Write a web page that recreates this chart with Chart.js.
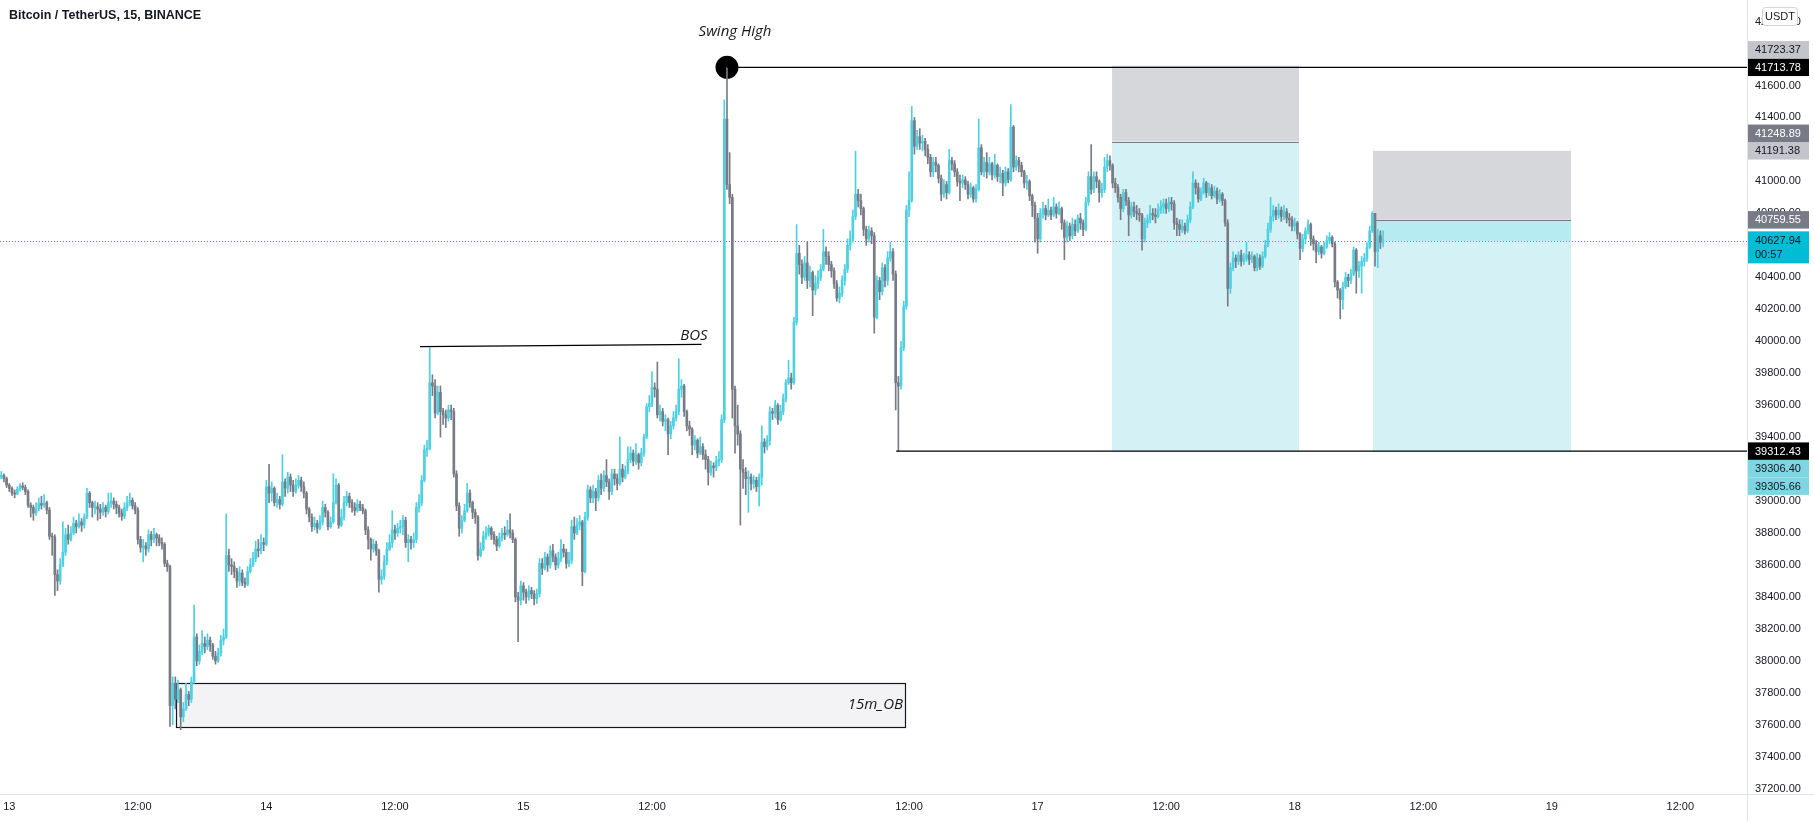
<!DOCTYPE html>
<html>
<head>
<meta charset="utf-8">
<script src="https://cdn.jsdelivr.net/npm/chart.js@4.4.1/dist/chart.umd.min.js"></script>
<style>
  html, body { margin: 0; padding: 0; background: #ffffff; overflow: hidden; }
</style>
</head>
<body>
<canvas id="btcChart" width="1814" height="821"></canvas>
<script>
// 15 minute candles, x = bar number counted from the 13th 00:00
const firstIndex = -4;
const firstOpen = 39140;
const closes = [
  39150, 39160, 39140, 39100, 39080, 39050, 39045, 39075,
  39095, 39085, 39060, 38975, 38960, 38925, 38950, 38985,
  38975, 38990, 38945, 38780, 38775, 38540, 38500, 38600,
  38680, 38790, 38760, 38800, 38860, 38840, 38870, 38850,
  38900, 39050, 38990, 38960, 38965, 38950, 38930, 38960,
  38935, 38990, 39000, 38980, 38960, 38925, 38905, 38960,
  38990, 39005, 38970, 38945, 38760, 38710, 38720, 38700,
  38790, 38760, 38790, 38770, 38740, 38730, 38610, 38590,
  37720, 37860, 37760, 37820, 37650, 37700, 37790, 37760,
  37870, 38150, 38000, 38060, 38110, 38090, 38130, 38100,
  38030, 38000, 38050, 38130, 38150, 38660, 38600, 38590,
  38560, 38500, 38550, 38490, 38480, 38560, 38600, 38640,
  38700, 38690, 38740, 38730, 39090, 39050, 39080, 38990,
  39010, 38980, 39120, 39080, 39150, 39100, 39060, 39100,
  39130, 39090, 39050, 38950, 38900, 38840, 38860, 38830,
  38870, 38960, 38930, 38840, 38870, 38990, 39100, 38850,
  38900, 38990, 39030, 38990, 38960, 38940, 38980, 38960,
  38940, 38820, 38760, 38700, 38730, 38690, 38510, 38530,
  38620, 38700, 38740, 38820, 38800, 38830, 38840, 38880,
  38740, 38760, 38740, 38760, 38960, 38990, 39130, 39320,
  39330, 39740, 39720, 39550, 39680, 39560, 39540, 39520,
  39570, 39560, 39170, 38970, 38830, 38880, 38940, 39050,
  38990, 38930, 38900, 38660, 38700, 38780, 38800, 38830,
  38790, 38760, 38720, 38770, 38800, 38790, 38820, 38800,
  38760, 38400, 38380, 38470, 38430, 38400, 38440, 38420,
  38390, 38420, 38610, 38580, 38650, 38600, 38690, 38650,
  38600, 38640, 38700, 38680, 38610, 38630, 38840, 38800,
  38850, 38870, 38560, 38900, 39070, 39020, 39060, 39020,
  39130, 39080, 39160, 39120, 39060, 39170, 39140, 39110,
  39200, 39150, 39190, 39260, 39300, 39250, 39290, 39240,
  39300, 39400, 39590, 39610, 39710, 39700, 39540, 39560,
  39500, 39510, 39420, 39470, 39520, 39560, 39700, 39720,
  39560, 39470, 39450, 39350, 39380, 39300, 39340, 39290,
  39260, 39180, 39220, 39210, 39250, 39260, 39510, 41390,
  40980, 40900, 39700, 39470, 39420, 39200, 39180, 39140,
  39150, 39110, 39130, 39090, 39150, 39370, 39340, 39380,
  39560, 39550, 39600, 39510, 39560, 39640, 39740, 39770,
  39740, 40120, 40550, 40480, 40400, 40490, 40380, 40430,
  40320, 40360, 40400, 40450, 40560, 40530, 40480, 40440,
  40360, 40270, 40300, 40380, 40450, 40600, 40640, 40780,
  40920, 40880, 40830, 40700, 40640, 40690, 40660, 40150,
  40380, 40310, 40460, 40380, 40520, 40560, 40420, 39740,
  39720, 39960, 40220, 40820, 40880, 41380, 41220, 41280,
  41240, 41250, 41200, 41150, 41060, 41120, 41100, 41020,
  40920, 40980, 40930, 41130, 41110, 41060, 41000, 40990,
  41010, 40980, 40920, 40960, 40890, 40950, 41210, 41060,
  41120, 41060, 41110, 41040, 41100, 41030, 41050, 40990,
  41060, 41010, 41340, 41090, 41130, 41100, 41060, 40990,
  41000, 40910, 40850, 40770, 40640, 40800, 40830, 40790,
  40820, 40790, 40840, 40800, 40830, 40740, 40650, 40720,
  40660, 40730, 40690, 40770, 40740, 40700, 40870, 41030,
  40950, 41030, 41000, 40930, 40950, 41090, 41130, 41100,
  40990, 40960, 40900, 40830, 40930, 40880, 40790, 40840,
  40810, 40800, 40790, 40640, 40740, 40760, 40800, 40790,
  40780, 40820, 40840, 40860, 40830, 40870, 40860, 40740,
  40730, 40700, 40720, 40690, 40760, 40840, 40990, 40960,
  40890, 40930, 40990, 40930, 40960, 40910, 40940, 40890,
  40920, 40880, 40740, 40330, 40460, 40520, 40500, 40540,
  40500, 40520, 40540, 40510, 40530, 40460, 40520, 40470,
  40530, 40600, 40700, 40780, 40820, 40790, 40820, 40780,
  40810, 40770, 40760, 40720, 40740, 40670, 40580, 40640,
  40690, 40730, 40640, 40610, 40560, 40590, 40550, 40590,
  40630, 40650, 40610, 40370, 40320, 40260, 40340, 40400,
  40380, 40420, 40570, 40440, 40470, 40500, 40520, 40590,
  40690, 40800, 40560, 40660, 40620, 40627.94
];
const highs = [
  39180, 39185, 39170, 39150, 39110, 39090, 39070, 39090,
  39110, 39115, 39100, 39070, 38990, 38975, 38990, 39020,
  39030, 39040, 39000, 38960, 38800, 38790, 38570, 38640,
  38870, 38830, 38850, 38840, 38900, 38880, 38920, 38890,
  38920, 39080, 39060, 39000, 39000, 38990, 38980, 38990,
  38975, 39050, 39050, 39020, 39000, 38975, 38950, 38990,
  39030, 39050, 39020, 38990, 38960, 38780, 38760, 38740,
  38820, 38810, 38830, 38800, 38790, 38770, 38740, 38630,
  38600, 37900, 37900, 37880, 37830, 37740, 37860, 37810,
  37900, 38350, 38170, 38100, 38190, 38150, 38170, 38150,
  38110, 38060, 38080, 38160, 38200, 38920, 38700, 38640,
  38620, 38580, 38590, 38570, 38520, 38590, 38640, 38680,
  38750, 38760, 38790, 38770, 39130, 39230, 39120, 39090,
  39050, 39030, 39290, 39140, 39180, 39170, 39130, 39140,
  39160, 39150, 39120, 39060, 38960, 38920, 38900, 38880,
  38910, 39000, 38980, 38940, 38900, 39170, 39140, 39110,
  38950, 39030, 39060, 39050, 39010, 38990, 39010, 39000,
  38980, 38950, 38840, 38770, 38760, 38750, 38700, 38570,
  38660, 38740, 38790, 38940, 38850, 38860, 38880, 38910,
  38900, 38790, 38780, 38800, 38990, 39040, 39160, 39350,
  39380, 39960, 39790, 39760, 39720, 39720, 39580, 39570,
  39600, 39600, 39580, 39190, 38990, 38910, 38980, 39110,
  39070, 39000, 38950, 38910, 38740, 38810, 38840, 38850,
  38840, 38810, 38780, 38800, 38830, 38840, 38880, 38920,
  38820, 38770, 38430, 38500, 38490, 38450, 38470, 38460,
  38440, 38450, 38640, 38640, 38680, 38670, 38720, 38730,
  38670, 38680, 38760, 38730, 38700, 38680, 38880, 38900,
  38890, 38910, 38880, 38930, 39100, 39090, 39100, 39080,
  39160, 39170, 39190, 39260, 39140, 39200, 39200, 39170,
  39400, 39230, 39220, 39340, 39340, 39320, 39360, 39300,
  39330, 39420, 39610, 39660, 39810, 39740, 39870, 39600,
  39580, 39540, 39520, 39500, 39560, 39600, 39890, 39760,
  39730, 39570, 39500, 39460, 39410, 39390, 39400, 39360,
  39320, 39280, 39250, 39240, 39280, 39310, 39540, 41510,
  41713.78, 41180, 40920, 39720, 39600, 39440, 39260, 39210,
  39190, 39170, 39160, 39150, 39170, 39470, 39390, 39410,
  39590, 39580, 39630, 39610, 39600, 39670, 39760, 39880,
  39800, 40150, 40730, 40600, 40510, 40530, 40620, 40470,
  40440, 40410, 40440, 40480, 40700, 40590, 40560, 40500,
  40460, 40380, 40340, 40410, 40480, 40640, 40690, 40820,
  41190, 40950, 40920, 40840, 40720, 40720, 40710, 40680,
  40410, 40400, 40490, 40480, 40560, 40620, 40580, 40440,
  39780, 40000, 40250, 40850, 41060, 41470, 41400, 41320,
  41330, 41290, 41270, 41230, 41170, 41150, 41150, 41110,
  41040, 41010, 41000, 41200, 41150, 41130, 41080, 41040,
  41040, 41030, 41000, 40990, 40970, 40980, 41390, 41230,
  41150, 41180, 41150, 41120, 41170, 41110, 41090, 41070,
  41090, 41080, 41480, 41350, 41160, 41150, 41120, 41070,
  41040, 41010, 40920, 40870, 40800, 40830, 40870, 40850,
  40890, 40840, 40900, 40860, 40870, 40840, 40760, 40750,
  40740, 40770, 40760, 40790, 40800, 40760, 40900, 41060,
  41230, 41060, 41060, 41010, 40990, 41150, 41170, 41160,
  41110, 41020, 40980, 40920, 40950, 40950, 40900, 40870,
  40870, 40850, 40830, 40800, 40770, 40790, 40850, 40830,
  40830, 40860, 40880, 40890, 40890, 40900, 40900, 40880,
  40770, 40760, 40760, 40740, 40790, 40870, 41060, 41010,
  40990, 40960, 41020, 41000, 40990, 40980, 40970, 40960,
  40950, 40930, 40890, 40760, 40490, 40560, 40540, 40560,
  40570, 40550, 40620, 40560, 40560, 40540, 40550, 40540,
  40560, 40630, 40740, 40900, 40850, 40840, 40860, 40840,
  40850, 40830, 40800, 40780, 40770, 40750, 40680, 40670,
  40710, 40760, 40740, 40660, 40630, 40620, 40600, 40620,
  40660, 40680, 40660, 40620, 40380, 40330, 40370, 40430,
  40420, 40450, 40590, 40580, 40500, 40530, 40550, 40620,
  40720, 40810, 40790, 40700, 40690, 40690
];
const lows = [
  39130, 39140, 39120, 39085, 39060, 39035, 39020, 39040,
  39060, 39070, 39040, 38960, 38900, 38880, 38910, 38940,
  38950, 38960, 38920, 38760, 38660, 38410, 38440, 38480,
  38590, 38660, 38730, 38750, 38790, 38800, 38830, 38810,
  38830, 38890, 38960, 38900, 38920, 38880, 38890, 38910,
  38900, 38920, 38960, 38950, 38920, 38900, 38880, 38890,
  38940, 38970, 38950, 38920, 38730, 38680, 38620, 38660,
  38680, 38720, 38740, 38720, 38720, 38700, 38590, 38560,
  37590, 37600, 37700, 37740, 37570, 37620, 37690, 37720,
  37740, 37860, 37970, 37980, 38040, 38050, 38070, 38060,
  38010, 37980, 37990, 38030, 38100, 38140, 38560, 38540,
  38520, 38460, 38470, 38470, 38460, 38470, 38550, 38590,
  38620, 38650, 38670, 38690, 38720, 38990, 39000, 38970,
  38960, 38950, 38970, 39030, 39050, 39060, 39030, 39050,
  39080, 39060, 39020, 38920, 38870, 38810, 38820, 38800,
  38820, 38850, 38900, 38820, 38830, 38860, 38980, 38830,
  38840, 38880, 38970, 38960, 38930, 38910, 38930, 38940,
  38920, 38790, 38700, 38630, 38680, 38660, 38430, 38480,
  38510, 38600, 38690, 38710, 38760, 38780, 38800, 38790,
  38710, 38620, 38700, 38710, 38740, 38930, 38970, 39120,
  39280, 39320, 39660, 39520, 39540, 39400, 39480, 39460,
  39500, 39510, 39150, 38940, 38780, 38800, 38870, 38930,
  38960, 38890, 38860, 38630, 38650, 38690, 38760, 38780,
  38760, 38730, 38690, 38710, 38750, 38760, 38780, 38770,
  38740, 38370, 38120, 38350, 38380, 38360, 38380, 38390,
  38350, 38360, 38400, 38540, 38570, 38560, 38580, 38620,
  38570, 38580, 38620, 38650, 38580, 38590, 38610, 38760,
  38790, 38820, 38470, 38550, 38880, 38990, 38990, 38940,
  39000, 39040, 39060, 39090, 39010, 39040, 39100, 39070,
  39100, 39120, 39140, 39170, 39240, 39220, 39230, 39200,
  39220, 39280, 39390, 39560, 39590, 39650, 39520, 39500,
  39470, 39440, 39290, 39390, 39450, 39500, 39540, 39650,
  39530, 39440, 39410, 39290, 39320, 39270, 39290, 39260,
  39200, 39100, 39160, 39150, 39190, 39220, 39240, 39490,
  40950, 40860, 39520, 39300, 39350, 38850, 39080, 39040,
  38930, 39070, 39080, 39060, 38970, 39100, 39300, 39320,
  39350, 39510, 39520, 39480, 39500, 39540, 39620, 39730,
  39700, 39730, 40100, 40420, 40360, 40380, 40330, 40340,
  40160, 40290, 40330, 40380, 40440, 40480, 40440, 40400,
  40330, 40250, 40240, 40280, 40350, 40430, 40570, 40620,
  40760, 40840, 40790, 40660, 40600, 40620, 40610, 40050,
  40140, 40260, 40290, 40340, 40350, 40500, 40380, 39570,
  39312.43, 39700, 39940, 40200, 40780, 40870, 41170, 41200,
  41200, 41190, 41160, 41110, 41030, 41030, 41060, 40990,
  40880, 40900, 40890, 40920, 41070, 41030, 40970, 40880,
  40960, 40950, 40890, 40900, 40870, 40870, 40940, 41040,
  41030, 41020, 41040, 41010, 41020, 41000, 40990, 40910,
  40970, 40990, 41000, 41060, 41070, 41060, 41030, 40960,
  40950, 40880, 40780, 40620, 40550, 40620, 40770, 40760,
  40780, 40760, 40780, 40770, 40790, 40700, 40510, 40620,
  40630, 40640, 40660, 40680, 40700, 40660, 40690, 40850,
  40920, 40930, 40960, 40870, 40900, 40930, 41060, 41070,
  40960, 40930, 40870, 40760, 40810, 40850, 40660, 40770,
  40780, 40760, 40750, 40570, 40620, 40710, 40740, 40760,
  40740, 40770, 40800, 40800, 40800, 40810, 40820, 40700,
  40660, 40660, 40680, 40670, 40680, 40740, 40830, 40920,
  40870, 40880, 40920, 40900, 40910, 40890, 40900, 40860,
  40870, 40850, 40720, 40220, 40300, 40440, 40460, 40480,
  40470, 40480, 40500, 40480, 40490, 40440, 40440, 40450,
  40460, 40520, 40590, 40680, 40750, 40760, 40770, 40750,
  40760, 40740, 40720, 40690, 40690, 40640, 40510, 40560,
  40610, 40670, 40600, 40570, 40490, 40540, 40520, 40540,
  40580, 40610, 40590, 40340, 40270, 40140, 40200, 40330,
  40340, 40360, 40410, 40300, 40400, 40300, 40470, 40500,
  40580, 40680, 40470, 40460, 40580, 40590
];

const dayLabels = ['13', '14', '15', '16', '17', '18', '19'];
const barsPerHalfDay = 48;
const priceTickStep = 200;

// drawings, in bar numbers and prices
const swingHigh = { bar: 268, price: 41713.78 };
const bosLine = { from: 153.4, to: 258.5, priceFrom: 39966, priceTo: 39980 };
const obBox = { from: 62.2, to: 334.5, top: 37862, bottom: 37587 };
const lowLine = { from: 331.2, price: 39312.43 };
const positions = [
  { from: 411.8, to: 481.6, stop: 41723.37, entry: 41248.89, target: 39306.40 },
  { from: 509.2, to: 583.2, stop: 41191.38, entry: 40759.55, target: 39305.66, current: 40627.94 }
];
const lastPrice = 40627.94;
const countdown = '00:57';

const upColor = '#4DD0E1';
const downColor = '#787B86';

const candles = closes.map((c, k) => {
  const o = k === 0 ? firstOpen : closes[k - 1];
  return { x: firstIndex + k, o: o, c: c, h: Math.max(highs[k], o, c), l: Math.min(lows[k], o, c) };
});
const candleColors = candles.map(d => d.c >= d.o ? upColor : downColor);

const priceLabels = [
  { price: 41713.78, bg: '#000000', fg: '#ffffff' },
  { price: 39312.43, bg: '#000000', fg: '#ffffff' },
  { price: 41191.38, bg: '#C3C5CB', fg: '#131722' },
  { price: 40759.55, bg: '#787B86', fg: '#ffffff' },
  { price: lastPrice, bg: '#00BCD4', fg: '#131722', sub: countdown },
  { price: 41723.37, bg: '#C3C5CB', fg: '#131722', shift: 'up' },
  { price: 41248.89, bg: '#787B86', fg: '#ffffff', shift: 'up' },
  { price: 39306.40, bg: '#7DD6E2', fg: '#131722', shift: 'down' },
  { price: 39305.66, bg: '#7DD6E2', fg: '#131722', shift: 'down' }
];

const drawings = {
  id: 'drawings',
  beforeDatasetsDraw(chart) {
    const { ctx, chartArea: a, scales: { x, y } } = chart;
    ctx.save();
    ctx.beginPath();
    ctx.rect(a.left, a.top, a.right - a.left, a.bottom - a.top);
    ctx.clip();

    // long position tools
    positions.forEach(p => {
      const x0 = x.getPixelForValue(p.from), x1 = x.getPixelForValue(p.to);
      const ys = y.getPixelForValue(p.stop), ye = y.getPixelForValue(p.entry), yt = y.getPixelForValue(p.target);
      ctx.fillStyle = '#D6D7DB';
      ctx.fillRect(x0, ys, x1 - x0, ye - ys);
      ctx.fillStyle = '#D4F2F6';
      ctx.fillRect(x0, ye, x1 - x0, yt - ye);
      if (p.current !== undefined) {
        const yc = y.getPixelForValue(p.current);
        ctx.fillStyle = '#B7EBF2';
        ctx.fillRect(x0, ye, x1 - x0, yc - ye);
      }
      ctx.strokeStyle = '#787B86';
      ctx.lineWidth = 1;
      ctx.beginPath();
      ctx.moveTo(x0, Math.round(ye) + 0.5);
      ctx.lineTo(x1, Math.round(ye) + 0.5);
      ctx.stroke();
    });

    // order block
    const bx0 = x.getPixelForValue(obBox.from), bx1 = x.getPixelForValue(obBox.to);
    const by0 = y.getPixelForValue(obBox.top), by1 = y.getPixelForValue(obBox.bottom);
    ctx.fillStyle = '#F3F3F6';
    ctx.fillRect(bx0, by0, bx1 - bx0, by1 - by0);
    ctx.strokeStyle = '#131722';
    ctx.lineWidth = 1.2;
    ctx.strokeRect(Math.round(bx0) + 0.5, Math.round(by0) + 0.5, Math.round(bx1 - bx0), Math.round(by1 - by0));

    // last price dotted line
    const yl = Math.round(y.getPixelForValue(lastPrice)) + 0.5;
    ctx.strokeStyle = '#00BCD4';
    ctx.lineWidth = 1;
    ctx.setLineDash([1, 2]);
    ctx.beginPath();
    ctx.moveTo(a.left, yl);
    ctx.lineTo(a.right, yl);
    ctx.stroke();
    ctx.setLineDash([]);

    // swing high marker
    ctx.fillStyle = '#000000';
    ctx.beginPath();
    ctx.arc(x.getPixelForValue(swingHigh.bar), y.getPixelForValue(swingHigh.price), 11.5, 0, Math.PI * 2);
    ctx.fill();
    ctx.restore();
  },
  afterDatasetsDraw(chart) {
    const { ctx, chartArea: a, scales: { x, y } } = chart;
    ctx.save();
    ctx.strokeStyle = '#000000';
    ctx.lineWidth = 1.2;

    const sx = x.getPixelForValue(swingHigh.bar), sy = y.getPixelForValue(swingHigh.price);
    ctx.beginPath();
    ctx.moveTo(sx, sy);
    ctx.lineTo(a.right, sy);
    ctx.stroke();

    const lx = x.getPixelForValue(lowLine.from), ly = y.getPixelForValue(lowLine.price);
    ctx.beginPath();
    ctx.moveTo(lx, ly);
    ctx.lineTo(a.right, ly);
    ctx.stroke();

    const b0x = x.getPixelForValue(bosLine.from), b0y = y.getPixelForValue(bosLine.priceFrom);
    const b1x = x.getPixelForValue(bosLine.to), b1y = y.getPixelForValue(bosLine.priceTo);
    ctx.beginPath();
    ctx.moveTo(b0x, b0y);
    ctx.lineTo(b1x, b1y);
    ctx.stroke();

    ctx.fillStyle = '#131722';
    ctx.font = 'italic 15px "Open Sans"';
    ctx.textBaseline = 'middle';
    ctx.textAlign = 'center';
    ctx.fillText('Swing High', sx + 8, sy - 36);
    ctx.textAlign = 'right';
    ctx.fillText('BOS', b1x + 6, b1y - 9);
    const obRight = x.getPixelForValue(obBox.to);
    const obMid = (y.getPixelForValue(obBox.top) + y.getPixelForValue(obBox.bottom)) / 2;
    ctx.fillText('15m_OB', obRight - 2, obMid);
    ctx.restore();
  },
  afterDraw(chart) {
    const { ctx, chartArea: a, scales: { y } } = chart;
    const W = chart.width, H = chart.height;
    ctx.save();
    // axis separators
    ctx.strokeStyle = '#E0E3EB';
    ctx.lineWidth = 1;
    ctx.beginPath();
    ctx.moveTo(a.right + 0.5, 0);
    ctx.lineTo(a.right + 0.5, H);
    ctx.moveTo(0, a.bottom + 0.5);
    ctx.lineTo(W, a.bottom + 0.5);
    ctx.stroke();

    // price labels on the axis, pushed apart where they collide
    const h = 17.5;
    const placed = [];
    priceLabels.forEach(lb => {
      const c = y.getPixelForValue(lb.price);
      const size = lb.sub ? 32 : h;
      let top = lb.sub ? c - 9.5 : c - h / 2;
      let moved = true;
      while (moved) {
        moved = false;
        for (const p of placed) {
          if (top < p.bottom - 0.01 && top + size > p.top + 0.01) {
            top = lb.shift === 'up' ? p.top - size : p.bottom;
            moved = true;
          }
        }
      }
      placed.push({ top: top, bottom: top + size });
      ctx.fillStyle = lb.bg;
      ctx.fillRect(a.right + 1, top, 61, size);
      ctx.fillStyle = lb.fg;
      ctx.font = '11px "Liberation Sans"';
      ctx.textAlign = 'left';
      ctx.textBaseline = 'middle';
      ctx.fillText(lb.price.toFixed(2), a.right + 8, top + h / 2 + 0.5);
      if (lb.sub) ctx.fillText(lb.sub, a.right + 8, top + 24);
    });

    // currency box
    ctx.fillStyle = '#ffffff';
    ctx.strokeStyle = '#D1D4DC';
    ctx.beginPath();
    ctx.roundRect(1762.5, 7.5, 35, 18, 3);
    ctx.fill();
    ctx.stroke();
    ctx.fillStyle = '#131722';
    ctx.font = '11px "Liberation Sans"';
    ctx.textAlign = 'center';
    ctx.fillText('USDT', 1780, 17);

    // symbol title
    ctx.textAlign = 'left';
    ctx.font = 'bold 12.5px "Liberation Sans"';
    ctx.fillText('Bitcoin / TetherUS, 15, BINANCE', 9, 16);
    ctx.restore();
  }
};

Chart.defaults.font.family = '"Liberation Sans"';
Chart.defaults.color = '#131722';

new Chart(document.getElementById('btcChart'), {
  type: 'bar',
  data: {
    datasets: [
      {
        label: 'body',
        data: candles.map(d => ({ x: d.x, y: [d.o, d.c] })),
        backgroundColor: candleColors,
        barThickness: 2,
        minBarLength: 1,
        grouped: false,
        borderWidth: 0,
        order: 0
      },
      {
        label: 'wick',
        data: candles.map(d => ({ x: d.x, y: [d.l, d.h] })),
        backgroundColor: candleColors,
        barThickness: 1,
        grouped: false,
        borderWidth: 0,
        order: 1
      }
    ]
  },
  options: {
    responsive: false,
    animation: false,
    devicePixelRatio: 1,
    events: [],
    layout: { padding: 0 },
    plugins: { legend: { display: false }, tooltip: { enabled: false } },
    scales: {
      x: {
        type: 'linear',
        offset: false,
        min: -3.47,
        max: 648.9,
        grid: { display: false, drawTicks: false },
        border: { display: false },
        ticks: {
          autoSkip: false,
          maxRotation: 0,
          padding: 6,
          font: { size: 11 },
          callback: v => (v % (2 * barsPerHalfDay) === 0) ? dayLabels[v / (2 * barsPerHalfDay)] : '12:00'
        },
        afterBuildTicks: s => {
          s.ticks = dayLabels.flatMap((d, k) => [
            { value: k * 2 * barsPerHalfDay },
            { value: k * 2 * barsPerHalfDay + barsPerHalfDay }
          ]);
        },
        afterFit: s => { s.height = 27; s.paddingLeft = 0; s.paddingRight = 0; }
      },
      y: {
        position: 'right',
        min: 37167.6,
        max: 42134.8,
        grid: { display: false, drawTicks: false },
        border: { display: false },
        ticks: {
          autoSkip: false,
          padding: 8,
          font: { size: 11 },
          callback: v => Number(v).toFixed(2)
        },
        afterBuildTicks: s => {
          const t = [];
          for (let v = Math.ceil(s.min / priceTickStep) * priceTickStep; v <= s.max; v += priceTickStep) t.push({ value: v });
          s.ticks = t;
        },
        afterFit: s => { s.width = 67; s.paddingTop = 0; s.paddingBottom = 0; }
      }
    }
  },
  plugins: [drawings]
});
</script>
</body>
</html>
